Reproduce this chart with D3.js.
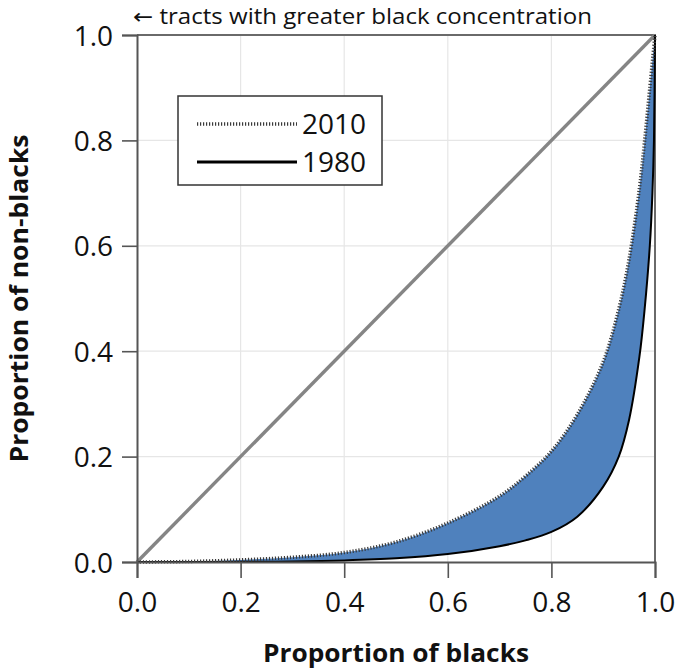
<!DOCTYPE html>
<html>
<head>
<meta charset="utf-8">
<script src="https://cdn.jsdelivr.net/npm/d3@7"></script>
<style>
  html, body { margin: 0; padding: 0; background: #fff; }
  svg { display: block; }
  text { font-family: "Open Sans", "DejaVu Sans", sans-serif; fill: #111; }
</style>
</head>
<body>
<svg id="chart" width="677" height="672"></svg>
<script>
// ---- data ----
const xTicks = [0, 0.2, 0.4, 0.6, 0.8, 1.0];
const yTicks = [0, 0.2, 0.4, 0.6, 0.8, 1.0];
const tickLabels = ["0.0", "0.2", "0.4", "0.6", "0.8", "1.0"];

// 2010 curve (proportion of blacks vs proportion of non-blacks)
const blacks2010 = [0, 0.1, 0.2, 0.3, 0.4, 0.5, 0.6, 0.7, 0.75, 0.8, 0.85, 0.9, 0.93, 0.95, 0.97, 0.98, 0.99, 1.0];
const nonBlacks2010 = [0, 0.001, 0.004, 0.009, 0.018, 0.038, 0.074, 0.125, 0.163, 0.21, 0.28, 0.38, 0.48, 0.575, 0.71, 0.8, 0.9, 1.0];

// 1980 curve
const blacks1980 = [0, 0.2, 0.3, 0.4, 0.5, 0.6, 0.7, 0.75, 0.8, 0.85, 0.9, 0.93, 0.95, 0.97, 0.98, 0.99, 0.995, 0.998, 1.0];
const nonBlacks1980 = [0, 0.0003, 0.001, 0.003, 0.007, 0.015, 0.03, 0.041, 0.057, 0.086, 0.143, 0.2, 0.27, 0.39, 0.48, 0.6, 0.7, 0.8, 1.0];

const legendLabels = ["2010", "1980"];

// ---- layout ----
const svg = d3.select("#chart");
const L = 137, R = 655, T = 35, B = 562;
const x = d3.scaleLinear().domain([0, 1]).range([L, R]);
const y = d3.scaleLinear().domain([0, 1]).range([B, T]);

// gridlines
const grid = svg.append("g");
grid.selectAll("line.vx").data(xTicks.slice(1, -1)).join("line")
  .attr("x1", d => x(d)).attr("x2", d => x(d)).attr("y1", T).attr("y2", B)
  .attr("stroke", "#e6e6e6").attr("stroke-width", 1.2);
grid.selectAll("line.hy").data(yTicks.slice(1, -1)).join("line")
  .attr("x1", L).attr("x2", R).attr("y1", d => y(d)).attr("y2", d => y(d))
  .attr("stroke", "#e6e6e6").attr("stroke-width", 1.2);

// frame (top & right)
svg.append("path")
  .attr("d", `M${L},${T}H${R}V${B}`)
  .attr("fill", "none").attr("stroke", "#6a6a6a").attr("stroke-width", 2);

// data
const d2010 = blacks2010.map((b, i) => [b, nonBlacks2010[i]]);
const d1980 = blacks1980.map((b, i) => [b, nonBlacks1980[i]]);

const line = d3.line().x(d => x(d[0])).y(d => y(d[1])).curve(d3.curveCatmullRom.alpha(0.5));

// fill between curves
const upperPath = line(d2010);
const lowerRevPath = line(d1980.slice().reverse());
svg.append("path")
  .attr("d", upperPath + lowerRevPath.replace(/^M/, "L") + "Z")
  .attr("fill", "#4f81bd").attr("stroke", "none");

// diagonal equality line
svg.append("line")
  .attr("x1", x(0)).attr("y1", y(0)).attr("x2", x(1)).attr("y2", y(1))
  .attr("stroke", "#858585").attr("stroke-width", 3.4);

// 1980 solid line
svg.append("path").attr("d", line(d1980))
  .attr("fill", "none").attr("stroke", "#000").attr("stroke-width", 2);

// 2010 dotted line
svg.append("path").attr("d", upperPath)
  .attr("fill", "none").attr("stroke", "#3a3a3a").attr("stroke-width", 3.5)
  .attr("stroke-dasharray", "1.2,1.8");

// axes
const xAxis = d3.axisBottom(x).tickValues(xTicks).tickSize(16)
  .tickFormat((d, i) => tickLabels[i]).tickPadding(14);
const yAxis = d3.axisLeft(y).tickValues(yTicks).tickSize(15)
  .tickFormat((d, i) => tickLabels[i]).tickPadding(9);

const gx = svg.append("g").attr("transform", `translate(0,${B})`).call(xAxis);
const gy = svg.append("g").attr("transform", `translate(${L},0)`).call(yAxis);
[gx, gy].forEach(g => {
  g.select(".domain").attr("stroke", "#555").attr("stroke-width", 2);
  g.selectAll(".tick line").attr("stroke", "#555").attr("stroke-width", 1.6);
  g.selectAll(".tick text").attr("font-size", 28).attr("fill", "#111")
    .attr("font-family", "'Open Sans', sans-serif");
});
gy.selectAll(".tick text").attr("dy", "0.36em");

// axis titles
svg.append("text")
  .attr("x", (L + R) / 2).attr("y", 662)
  .attr("text-anchor", "middle").attr("font-size", 25).attr("font-weight", "bold")
  .attr("textLength", 266).attr("lengthAdjust", "spacingAndGlyphs")
  .text("Proportion of blacks");

svg.append("text")
  .attr("transform", `translate(28,${(T + B) / 2}) rotate(-90)`)
  .attr("text-anchor", "middle").attr("font-size", 25).attr("font-weight", "bold")
  .attr("textLength", 328).attr("lengthAdjust", "spacingAndGlyphs")
  .text("Proportion of non-blacks");

// top annotation
svg.append("text")
  .attr("x", 133).attr("y", 24)
  .attr("font-size", 21)
  .attr("textLength", 459).attr("lengthAdjust", "spacingAndGlyphs")
  .text("← tracts with greater black concentration");

// legend
const lg = svg.append("g");
lg.append("rect").attr("x", 178).attr("y", 96).attr("width", 204).attr("height", 89)
  .attr("fill", "#fff").attr("stroke", "#333").attr("stroke-width", 1.5);
lg.append("line").attr("x1", 197).attr("x2", 297).attr("y1", 124).attr("y2", 124)
  .attr("stroke", "#3a3a3a").attr("stroke-width", 3.5).attr("stroke-dasharray", "1.2,1.8");
lg.append("line").attr("x1", 197).attr("x2", 297).attr("y1", 162).attr("y2", 162)
  .attr("stroke", "#000").attr("stroke-width", 3);
lg.selectAll("text").data(legendLabels).join("text")
  .attr("x", 302).attr("y", (d, i) => 134 + i * 38)
  .attr("font-size", 28).text(d => d);
</script>
</body>
</html>
